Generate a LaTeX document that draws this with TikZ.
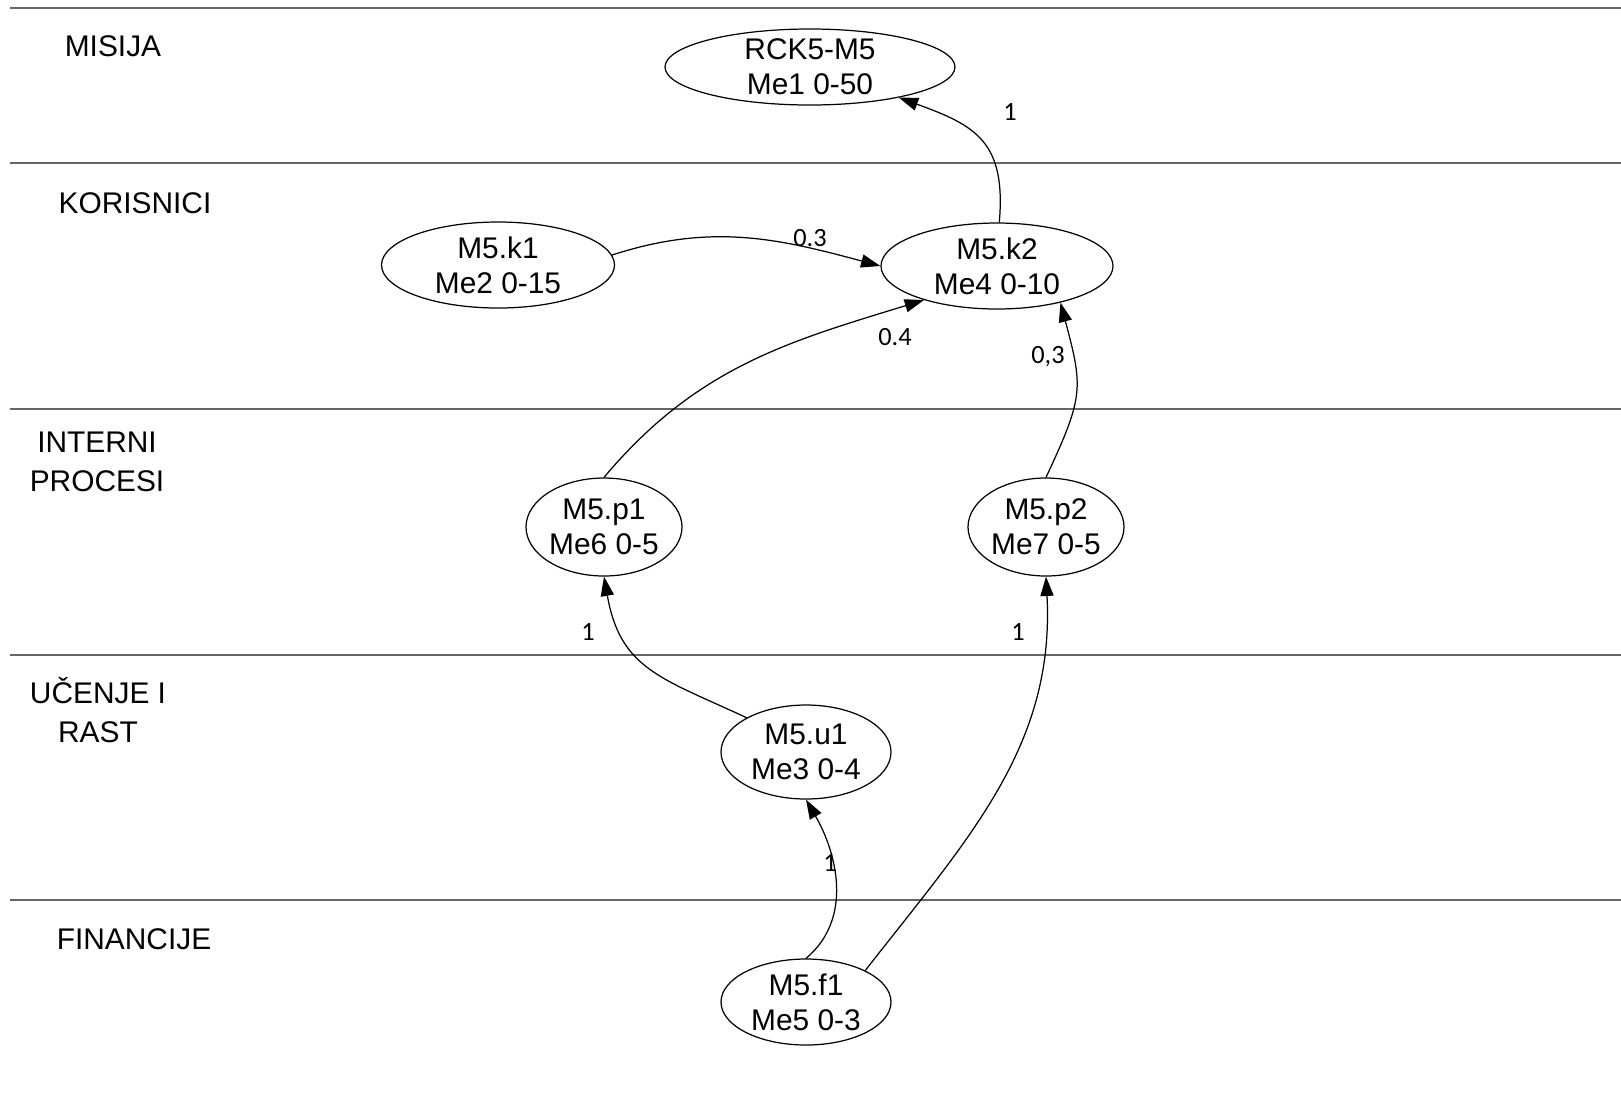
\documentclass[tikz,border=0pt]{standalone}
\usepackage{fontspec}
\setmainfont{Liberation Sans}
\newfontfamily\lblfont{Carlito}
\usetikzlibrary{shapes.geometric,arrows.meta}
\tikzset{
  goal/.style={ellipse,draw,line width=0.7pt,inner sep=0pt,align=center,font=\fontsize{17}{20}\selectfont},
  lane/.style={align=center,font=\fontsize{17}{22}\selectfont},
  wlabel/.style={font=\lblfont\fontsize{15}{15}\selectfont,inner sep=1pt},
  link/.style={-{Triangle[length=11pt,width=7.5pt]},line width=0.7pt},
  border/.style={line width=1.1pt,black!60}
}
\begin{document}
\begin{tikzpicture}
	\useasboundingbox (0,0) rectangle (32.42,-22.24);

	% Lanes
	\foreach \y in {-0.16,-3.26,-8.18,-13.10,-18.0}
		\draw[border] (0.2,\y) -- (32.42,\y);
	\node[lane] (misija) at (2.26,-0.92) {MISIJA};
	\node[lane] (korisnici) at (2.70,-4.06) {KORISNICI};
	\node[lane] (procesi) at (1.94,-9.24) {INTERNI\\PROCESI};
	\node[lane] (rast) at (1.96,-14.20) {UČENJE I\\RAST};
	\node[lane] (financije) at (2.68,-18.78) {FINANCIJE};

	% Goals
	\node[goal,minimum width=5.8cm,minimum height=1.52cm,inner ysep=-2pt] (rck) at (16.20,-1.34) {RCK5-M5\\Me1 0-50};
	\node[goal,minimum width=4.66cm,minimum height=1.72cm] (k1) at (9.96,-5.30) {M5.k1\\Me2 0-15};
	\node[goal,minimum width=4.64cm,minimum height=1.72cm] (k2) at (19.94,-5.32) {M5.k2\\Me4 0-10};
	\node[goal,minimum width=3.12cm,minimum height=1.96cm] (p1) at (12.08,-10.54) {M5.p1\\Me6 0-5};
	\node[goal,minimum width=3.12cm,minimum height=1.96cm] (p2) at (20.92,-10.54) {M5.p2\\Me7 0-5};
	\node[goal,minimum width=3.40cm,minimum height=1.88cm] (u1) at (16.12,-15.04) {M5.u1\\Me3 0-4};
	\node[goal,minimum width=3.40cm,minimum height=1.72cm] (f1) at (16.12,-20.04) {M5.f1\\Me5 0-3};

	% Links
	\draw[link] (k2.87) to[out=85,in=-20,looseness=1.3] (rck.-19);
	\draw[link] (k1.5) to[out=18,in=165] (k2.180);
	\draw[link] (p1.north) to[out=50,in=197] (k2.205);
	\draw[link] (p2.north) to[out=65,in=-75,looseness=1.3] (k2.-30);
	\draw[link] (u1.150) to[out=155,in=-80,looseness=1.2] (p1.south);
	\draw[link] (f1.north) to[out=40,in=-60] (u1.south);
	\draw[link] (f1.28) to[out=52,in=-87] (p2.south);

	% Weights
	\node[wlabel] (w1) at (20.20,-2.24) {1};
	\node[wlabel] (w2) at (16.20,-4.76) {0.3};
	\node[wlabel] (w3) at (17.90,-6.74) {0.4};
	\node[wlabel] (w4) at (20.96,-7.14) {0,3};
	\node[wlabel] (w5) at (11.76,-12.64) {1};
	\node[wlabel] (w6) at (20.36,-12.64) {1};
	\node[wlabel] (w7) at (16.60,-17.26) {1};

\end{tikzpicture}
\end{document}
